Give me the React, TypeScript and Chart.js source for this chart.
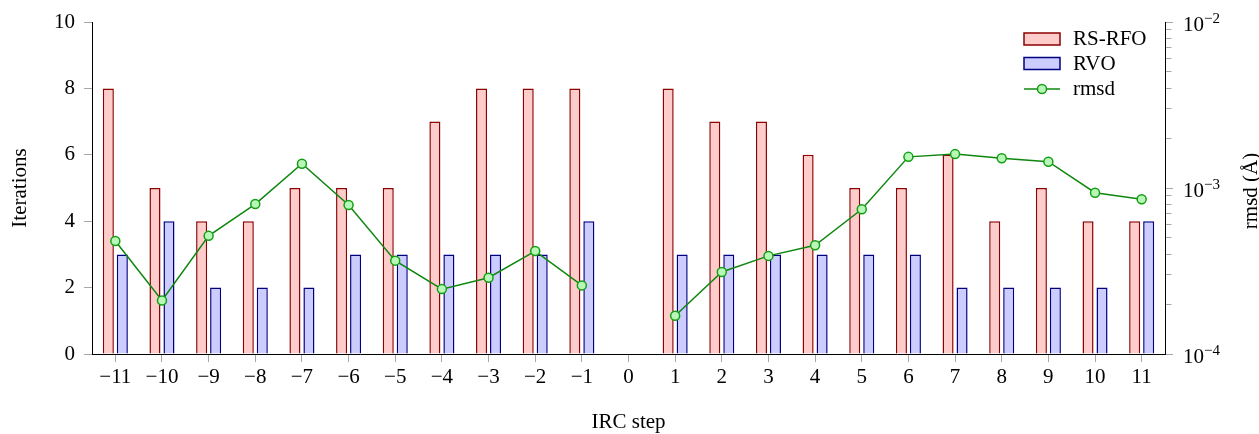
import React, { useEffect, useRef } from 'react';
import { Chart, registerables } from 'chart.js';

Chart.register(...registerables);

const steps = [-11, -10, -9, -8, -7, -6, -5, -4, -3, -2, -1, 0, 1, 2, 3, 4, 5, 6, 7, 8, 9, 10, 11];
const rsrfoIterations = [8, 5, 4, 4, 5, 5, 5, 7, 8, 8, 8, null, 8, 7, 7, 6, 5, 5, 6, 4, 5, 4, 4];
const rvoIterations = [3, 4, 2, 2, 2, 3, 3, 3, 3, 3, 4, null, 3, 3, 3, 3, 3, 3, 2, 2, 2, 2, 4];
const rmsdValues = [
  4.8e-4, 2.1e-4, 5.15e-4, 8.0e-4, 1.4e-3, 7.9e-4, 3.65e-4, 2.46e-4, 2.88e-4, 4.17e-4, 2.59e-4, null,
  1.7e-4, 3.12e-4, 3.9e-4, 4.52e-4, 7.44e-4, 1.54e-3, 1.6e-3, 1.51e-3, 1.44e-3, 9.37e-4, 8.55e-4,
];
const iterationTicks = [0, 2, 4, 6, 8, 10];
const rmsdTicks = [
  1e-4, 2e-4, 3e-4, 4e-4, 5e-4, 6e-4, 7e-4, 8e-4, 9e-4,
  1e-3, 2e-3, 3e-3, 4e-3, 5e-3, 6e-3, 7e-3, 8e-3, 9e-3, 1e-2,
];
const rmsdMajorExponents = [-4, -3, -2];
const legendLabels = ['RS-RFO', 'RVO', 'rmsd'];

const FONT = "'Liberation Serif', 'DejaVu Serif', serif";
const RED_FILL = '#ffcccc';
const RED_EDGE = '#8c0000';
const BLUE_FILL = '#ccccff';
const BLUE_EDGE = '#000080';
const GREEN_LINE = '#0f870f';
const GREEN_FILL = '#b8f7b8';
const GREEN_EDGE = '#12a012';
const TICK_GRAY = '#a8a8a8';

const fmtStep = (v: number) => (v < 0 ? '\u2212' + Math.abs(v) : String(v));
const isPow10 = (v: number) => Math.abs(Math.log10(v) - Math.round(Math.log10(v))) < 1e-9;

const overlayPlugin = {
  id: 'overlay',
  afterDraw(chart: any) {
    const ctx = chart.ctx as CanvasRenderingContext2D;
    const y1 = chart.scales.y1;
    const area = chart.chartArea;
    ctx.save();
    ctx.fillStyle = '#000';
    // right-axis labels 10^n
    rmsdMajorExponents.forEach((e) => {
      const p = y1.getPixelForValue(Math.pow(10, e));
      const x = area.right + 18;
      ctx.font = `21px ${FONT}`;
      ctx.textAlign = 'left';
      ctx.textBaseline = 'alphabetic';
      ctx.fillText('10', x, p + 9);
      const w = ctx.measureText('10').width;
      ctx.font = `15px ${FONT}`;
      ctx.fillText('\u2212' + Math.abs(e), x + w, p + 1);
    });
    // right-axis title
    ctx.save();
    ctx.translate(1257, (area.top + area.bottom) / 2 + 3);
    ctx.rotate(-Math.PI / 2);
    ctx.font = `21px ${FONT}`;
    ctx.textAlign = 'center';
    ctx.textBaseline = 'alphabetic';
    ctx.fillText('rmsd (\u00C5)', 0, 0);
    ctx.restore();

    // legend
    const lx = area.right - 141;
    const tx = area.right - 92;
    const rows = [area.top + 17, area.top + 41.5, area.top + 67];
    ctx.lineWidth = 1.5;
    // RS-RFO
    ctx.fillStyle = RED_FILL;
    ctx.strokeStyle = RED_EDGE;
    ctx.fillRect(lx, rows[0] - 6, 36, 12);
    ctx.strokeRect(lx, rows[0] - 6, 36, 12);
    // RVO
    ctx.fillStyle = BLUE_FILL;
    ctx.strokeStyle = BLUE_EDGE;
    ctx.fillRect(lx, rows[1] - 6, 36, 12);
    ctx.strokeRect(lx, rows[1] - 6, 36, 12);
    // rmsd
    ctx.strokeStyle = GREEN_LINE;
    ctx.beginPath();
    ctx.moveTo(lx, rows[2]);
    ctx.lineTo(lx + 36, rows[2]);
    ctx.stroke();
    ctx.beginPath();
    ctx.arc(lx + 18, rows[2], 4.5, 0, Math.PI * 2);
    ctx.fillStyle = GREEN_FILL;
    ctx.fill();
    ctx.strokeStyle = GREEN_EDGE;
    ctx.stroke();
    ctx.fillStyle = '#000';
    ctx.font = `21px ${FONT}`;
    ctx.textAlign = 'left';
    ctx.textBaseline = 'alphabetic';
    legendLabels.forEach((t, i) => ctx.fillText(t, tx, rows[i] + 6));
    ctx.restore();
  },
};

export default function App() {
  const ref = useRef<HTMLCanvasElement>(null);
  useEffect(() => {
    if (!ref.current) return;
    const chart = new Chart(ref.current, {
      type: 'bar',
      data: {
        labels: steps.map(String),
        datasets: [
          {
            type: 'bar',
            label: legendLabels[0],
            data: rsrfoIterations,
            backgroundColor: RED_FILL,
            borderColor: RED_EDGE,
            borderWidth: 1.5,
            yAxisID: 'y',
            order: 1,
            categoryPercentage: 0.6,
            barPercentage: 0.79,
          },
          {
            type: 'bar',
            label: legendLabels[1],
            data: rvoIterations,
            backgroundColor: BLUE_FILL,
            borderColor: BLUE_EDGE,
            borderWidth: 1.5,
            yAxisID: 'y',
            order: 2,
            categoryPercentage: 0.6,
            barPercentage: 0.79,
          },
          {
            type: 'line',
            label: legendLabels[2],
            data: rmsdValues,
            borderColor: GREEN_LINE,
            borderWidth: 1.5,
            pointRadius: 4.5,
            pointBackgroundColor: GREEN_FILL,
            pointBorderColor: GREEN_EDGE,
            pointBorderWidth: 1.5,
            tension: 0,
            spanGaps: false,
            yAxisID: 'y1',
            order: 0,
          },
        ] as any,
      },
      options: {
        animation: false,
        responsive: true,
        maintainAspectRatio: false,
        layout: { padding: { top: 22, left: 0, right: 0, bottom: 0 } },
        plugins: { legend: { display: false }, tooltip: { enabled: false } },
        scales: {
          x: {
            type: 'category',
            offset: true,
            grid: { display: true, drawOnChartArea: false, drawTicks: true, tickLength: 8, color: TICK_GRAY, offset: false },
            border: { display: true, color: '#000', width: 1 },
            ticks: {
              color: '#000',
              font: { family: FONT, size: 21 },
              padding: 3,
              maxRotation: 0,
              autoSkip: false,
              callback: (_v: any, i: number) => fmtStep(steps[i]),
            },
            title: {
              display: true,
              text: 'IRC step',
              color: '#000',
              font: { family: FONT, size: 21, lineHeight: 1 },
              padding: { top: 0, bottom: 0.6 },
            },
            afterFit: (s: any) => { s.height = 80; },
          },
          y: {
            position: 'left',
            min: 0,
            max: 10,
            afterBuildTicks: (s: any) => { s.ticks = iterationTicks.map((v) => ({ value: v })); },
            grid: { display: true, drawOnChartArea: false, drawTicks: true, tickLength: 8, color: TICK_GRAY },
            border: { display: true, color: '#000', width: 1 },
            ticks: { color: '#000', font: { family: FONT, size: 21 }, padding: 9 },
            title: {
              display: true,
              text: 'Iterations',
              color: '#000',
              font: { family: FONT, size: 21, lineHeight: 1 },
              padding: { top: 9.7, bottom: 0 },
            },
            afterFit: (s: any) => { s.width = 92; },
          },
          y1: {
            type: 'logarithmic',
            position: 'right',
            min: 1e-4,
            max: 1e-2,
            afterBuildTicks: (s: any) => { s.ticks = rmsdTicks.map((v) => ({ value: v })); },
            grid: {
              display: true,
              drawOnChartArea: false,
              drawTicks: true,
              tickLength: 8,
              color: TICK_GRAY,
              tickBorderDash: (c: any) => (c.tick && isPow10(c.tick.value) ? [] : [5.5, 30]),
            },
            border: { display: true, color: '#000', width: 1 },
            ticks: { autoSkip: false, callback: () => '', font: { family: FONT, size: 21 } },
            afterFit: (s: any) => { s.width = 94; },
          },
        },
      } as any,
      plugins: [overlayPlugin],
    });
    return () => chart.destroy();
  }, []);
  return (
    <div style={{ position: 'fixed', left: 0, top: 0, width: 1259, height: 434, background: '#fff' }}>
      <canvas ref={ref} />
    </div>
  );
}
